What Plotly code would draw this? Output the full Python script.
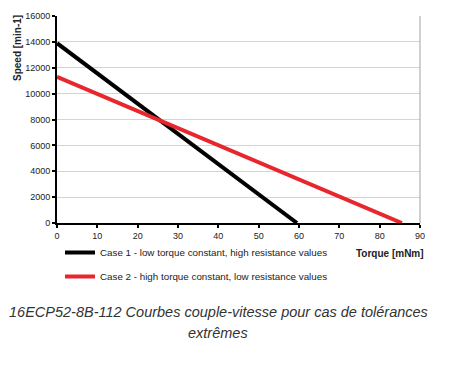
import plotly.graph_objects as go

# Data
case1_torque = [0, 59.5]
case1_speed = [13900, 0]
case2_torque = [0, 85.5]
case2_speed = [11300, 0]
case_names = ["Case 1 - low torque constant, high resistance values",
              "Case 2 - high torque constant, low resistance values"]
x_ticks = [0, 10, 20, 30, 40, 50, 60, 70, 80, 90]
y_ticks = [0, 2000, 4000, 6000, 8000, 10000, 12000, 14000, 16000]

OFF = 8  # browser body margin
W, H = 450 - OFF, 365 - OFF
L, R, T, B = 57 - OFF, 30, 16 - OFF, 142
pw, ph = W - L - R, H - T - B

def px(x):
    return (x - OFF - L) / pw

def py(y):
    return (H - B - (y - OFF)) / ph

fig = go.Figure()
fig.add_trace(go.Scatter(x=case1_torque, y=case1_speed, mode="lines",
                         line=dict(color="#000000", width=4), name=case_names[0],
                         legendgroup="a"))
fig.add_trace(go.Scatter(x=case2_torque, y=case2_speed, mode="lines",
                         line=dict(color="#e8262d", width=4), name=case_names[1],
                         legendgroup="b"))

font = "Liberation Sans, Arial, sans-serif"
fig.update_layout(
    width=W, height=H,
    margin=dict(l=L, r=R, t=T, b=B, autoexpand=False),
    paper_bgcolor="white", plot_bgcolor="white",
    font=dict(family=font, size=9, color="#222"),
    showlegend=True,
    legend=dict(x=px(60), y=py(238), xanchor="left", yanchor="top",
                bgcolor="rgba(0,0,0,0)", tracegroupgap=5,
                font=dict(size=9.8, color="#222"), itemwidth=30),
    xaxis=dict(range=[0, 90], tickvals=x_ticks, showgrid=False,
               showline=True, linecolor="black", linewidth=2,
               ticks="outside", ticklen=3, tickwidth=1.5, tickcolor="black",
               zeroline=False, fixedrange=True, automargin=False),
    yaxis=dict(range=[0, 16000], tickvals=y_ticks, tickformat="d", showgrid=True,
               gridcolor="#d4d4d4", gridwidth=1,
               showline=True, linecolor="black", linewidth=2,
               ticks="outside", ticklen=3, tickwidth=1.5, tickcolor="black",
               zeroline=False, fixedrange=True, automargin=False),
)

# right border
fig.add_shape(type="line", xref="paper", yref="paper", x0=1, x1=1, y0=0, y1=1,
              line=dict(color="#a0a0a0", width=1))

fig.add_annotation(text="<b>Torque [mNm]</b>", xref="paper", yref="paper",
                   x=px(390), y=py(253), showarrow=False,
                   xanchor="center", yanchor="middle",
                   font=dict(size=10, color="#222", family=font))
fig.add_annotation(text="<b>Speed [min-1]</b>", xref="paper", yref="paper",
                   x=px(17), y=py(48), showarrow=False, textangle=-90,
                   xanchor="center", yanchor="middle",
                   font=dict(size=10, color="#222", family=font))
fig.add_annotation(text="<i>16ECP52-8B-112 Courbes couple-vitesse pour cas de tolérances</i>",
                   xref="paper", yref="paper", x=px(218), y=py(312),
                   showarrow=False, align="center", xanchor="center", yanchor="middle",
                   font=dict(size=14.5, color="#333", family=font))
fig.add_annotation(text="<i>extrêmes</i>",
                   xref="paper", yref="paper", x=px(218), y=py(333),
                   showarrow=False, align="center", xanchor="center", yanchor="middle",
                   font=dict(size=14.5, color="#333", family=font))

fig.write_html("out.html")
